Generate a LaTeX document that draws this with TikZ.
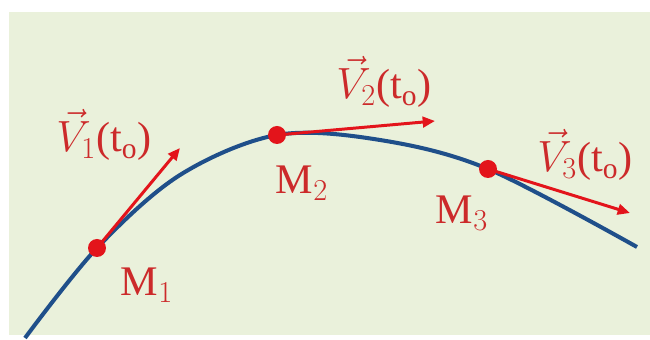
\documentclass[tikz,border=0pt]{standalone}
\usepackage{fontspec}
\setmainfont{Liberation Serif}
\usetikzlibrary{arrows.meta}
\definecolor{bg-green}{HTML}{EAF1DB}
\definecolor{curve-blue}{HTML}{1F4F8A}
\definecolor{vec-red}{HTML}{E3141B}
\definecolor{label-red}{HTML}{CC2A2A}

\begin{document}
\begin{tikzpicture}[x=0.02cm, y=-0.02cm,
      every node/.style={font=\fontsize{24}{28}\selectfont, text=label-red},
      dot/.style={circle, fill=vec-red, inner sep=0pt, minimum size=0.36cm},
      vec/.style={-{Triangle[length=7pt, width=6pt]}, vec-red, line width=1.7pt}]
    \useasboundingbox (0,0) rectangle (650,340);
    \fill[white] (0,0) rectangle (650,340);
    \fill[bg-green] (9,12) rectangle (650,335);
    % points on the path
    \coordinate (S) at (25,338);
    \coordinate (M1) at (97,248);
    \coordinate (M2) at (277,135);
    \coordinate (M3) at (488,169);
    \coordinate (E) at (637,247);
    \coordinate (V1) at (180,148);
    \coordinate (V2) at (435,121);
    \coordinate (V3) at (630,213);
    \draw[curve-blue, line width=2.3pt] plot[smooth, tension=0.55]
      coordinates {(S) (M1) (180,175) (M2) (380,140) (M3) (E)};
    \draw[vec] (M1) -- (V1);
    \draw[vec] (M2) -- (V2);
    \draw[vec] (M3) -- (V3);
    \node[dot] (d1) at (M1) {};
    \node[dot] (d2) at (M2) {};
    \node[dot] (d3) at (M3) {};
    \node (lM1) at (147,285) {M$_1$};
    \node (lM2) at (302,183) {M$_2$};
    \node (lM3) at (462,213) {M$_3$};
    \node (lV1) at (104,135) {$\vec{V}_1$(t$_\mathrm{o}$)};
    \node (lV2) at (384,82) {$\vec{V}_2$(t$_\mathrm{o}$)};
    \node (lV3) at (585,155) {$\vec{V}_3$(t$_\mathrm{o}$)};
  \end{tikzpicture}
\end{document}
